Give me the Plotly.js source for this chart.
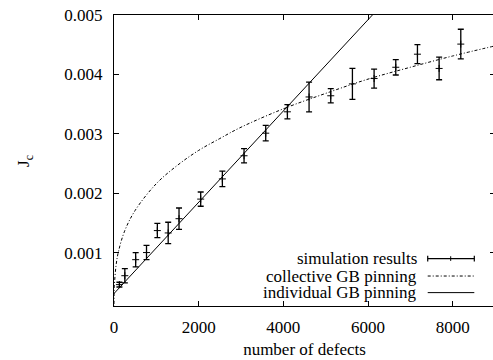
<!DOCTYPE html>
<html>
<head>
<meta charset="utf-8">
<script src="https://cdn.plot.ly/plotly-3.0.1.min.js"></script>
<style>
html,body{margin:0;padding:0;overflow:hidden;background:#fff;}
#chart{width:500px;height:360px;}
</style>
</head>
<body>
<div id="chart"></div>
<script>
// Simulation results (number of defects, Jc, error)
const simDefects = [128, 256, 512, 768, 1024, 1280, 1536, 2048, 2560, 3072, 3584, 4096, 4608, 5120, 5632, 6144, 6656, 7168, 7680, 8192];
const simJc      = [0.00046, 0.00061, 0.00088, 0.00100, 0.00137, 0.00133, 0.00157, 0.00190, 0.00224, 0.00263, 0.00301, 0.00337, 0.00362, 0.00364, 0.00384, 0.00393, 0.00412, 0.00434, 0.00410, 0.00451];
const simErr     = [0.00004, 0.00012, 0.00012, 0.00012, 0.00012, 0.00018, 0.00018, 0.00012, 0.00013, 0.00012, 0.00013, 0.00012, 0.00025, 0.00012, 0.00026, 0.00016, 0.00013, 0.00016, 0.00019, 0.00025];

// Collective GB pinning curve
const collDefects = [0, 10, 50, 100, 250, 500, 1000, 1500, 2000, 2500, 3000, 4000, 5000, 6000, 7000, 8000, 9000];
const collJc      = [0, 0.00045, 0.00079, 0.00100, 0.00136, 0.00171, 0.00216, 0.00247, 0.00272, 0.00292, 0.00311, 0.00342, 0.00368, 0.00392, 0.00412, 0.00431, 0.00448];

// Individual GB pinning line
const indDefects = [0, 6104];
const indJc      = [0.00031, 0.00500];

// Axis ticks / labels
const xTickVals = [0, 2000, 4000, 6000, 8000];
const yTickVals = [0.001, 0.002, 0.003, 0.004, 0.005];
const legendLabels = ["simulation results", "collective GB pinning", "individual GB pinning"];
const yTitle = "J<sub>c</sub>";
const xTitle = "number of defects";

const FONT = "Liberation Serif";

const traces = [
  {
    x: collDefects, y: collJc, mode: "lines", type: "scatter",
    line: {color: "#000", width: 1, dash: "3px,2px,1px,2px", shape: "spline"},
    showlegend: false, hoverinfo: "skip"
  },
  {
    x: indDefects, y: indJc, mode: "lines", type: "scatter",
    line: {color: "#000", width: 1},
    showlegend: false, hoverinfo: "skip"
  },
  {
    x: simDefects, y: simJc, mode: "markers", type: "scatter",
    marker: {symbol: "cross-thin", size: 5, color: "#000", line: {color: "#000", width: 1}},
    error_y: {type: "data", array: simErr, visible: true, color: "#000", thickness: 1.3, width: 3},
    showlegend: false
  }
];

// Legend drawn gnuplot-style (text right, sample to the right)
const rowsY = [0.163, 0.103, 0.046];
const txtX = 0.797;
const s0 = 0.8234, s1 = 0.9457, sMid = 0.8837;
const annotations = legendLabels.map((t, i) => ({
  text: t, xref: "paper", yref: "paper", x: txtX, y: rowsY[i],
  xanchor: "right", yanchor: "middle", showarrow: false, borderpad: 0,
  font: {family: FONT, size: 17, color: "#000"}
}));
annotations.push({
  text: yTitle, xref: "paper", yref: "paper", x: -0.235, y: 0.5,
  xanchor: "center", yanchor: "middle", textangle: -90, showarrow: false,
  font: {family: FONT, size: 17, color: "#000"}
});
const shapes = [
  {type: "line", xref: "paper", yref: "paper", x0: s0, x1: s1, y0: rowsY[0], y1: rowsY[0], line: {color: "#000", width: 1.2}},
  {type: "line", xref: "paper", yref: "paper", x0: s0, x1: s0, y0: rowsY[0] - 0.01, y1: rowsY[0] + 0.01, line: {color: "#000", width: 1.2}},
  {type: "line", xref: "paper", yref: "paper", x0: s1, x1: s1, y0: rowsY[0] - 0.01, y1: rowsY[0] + 0.01, line: {color: "#000", width: 1.2}},
  {type: "line", xref: "paper", yref: "paper", x0: sMid, x1: sMid, y0: rowsY[0] - 0.008, y1: rowsY[0] + 0.008, line: {color: "#000", width: 1}},
  {type: "line", xref: "paper", yref: "paper", x0: s0, x1: s1, y0: rowsY[1], y1: rowsY[1], line: {color: "#000", width: 1, dash: "3px,2px,1px,2px"}},
  {type: "line", xref: "paper", yref: "paper", x0: s0, x1: s1, y0: rowsY[2], y1: rowsY[2], line: {color: "#000", width: 1}}
];

const layout = {
  width: 500, height: 360,
  margin: {l: 114, r: 5, t: 15, b: 54},
  paper_bgcolor: "#fff", plot_bgcolor: "#fff",
  font: {family: FONT, size: 17, color: "#000"},
  showlegend: false,
  xaxis: {
    range: [0, 9000], tickvals: xTickVals, ticktext: xTickVals.map(String),
    ticks: "inside", ticklen: 5, tickcolor: "#000", tickwidth: 1,
    showline: true, linecolor: "#000", linewidth: 1, mirror: "allticks",
    showgrid: false, zeroline: false, ticklabelstandoff: 6,
    tickfont: {family: FONT, size: 17, color: "#000"},
    title: {text: xTitle, font: {family: FONT, size: 17, color: "#000"}, standoff: 6},
    automargin: false
  },
  yaxis: {
    range: [0.0001, 0.005], tickvals: yTickVals, ticktext: yTickVals.map(v => v.toFixed(3)),
    ticks: "inside", ticklen: 5, tickcolor: "#000", tickwidth: 1,
    showline: true, linecolor: "#000", linewidth: 1, mirror: "allticks",
    showgrid: false, zeroline: false, ticklabelstandoff: 7,
    tickfont: {family: FONT, size: 17, color: "#000"},
    automargin: false
  },
  annotations: annotations,
  shapes: shapes
};

Plotly.newPlot("chart", traces, layout, {displayModeBar: false, staticPlot: true});
</script>
</body>
</html>
